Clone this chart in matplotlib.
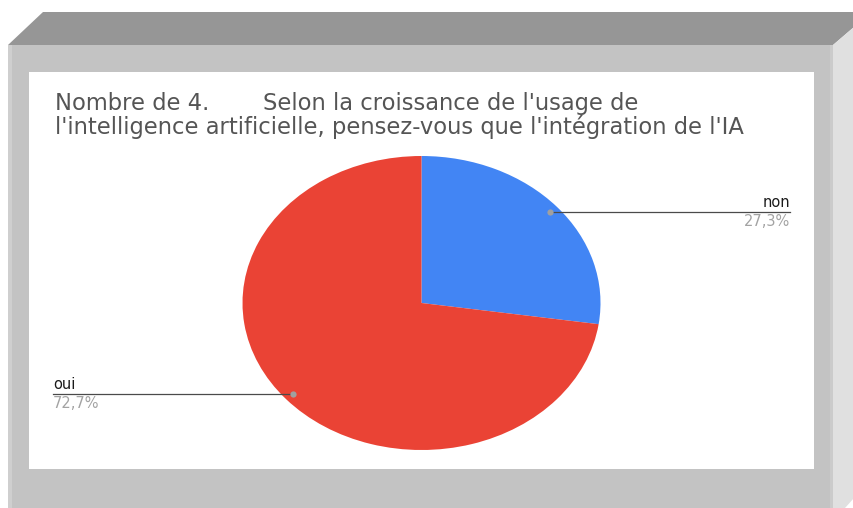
import numpy as np
import matplotlib
matplotlib.use("Agg")
import matplotlib.pyplot as plt
from matplotlib.patches import Polygon, Rectangle

plt.rcParams['font.family'] = ['DejaVu Sans']

# data
labels = ["non", "oui"]
values = [27.3, 72.7]
colors = ["#4285f4", "#ea4335"]
title_a = "Nombre de 4."
title_b = "Selon la croissance de l'usage de"
title_c = "l'intelligence artificielle, pensez-vous que l'intégration de l'IA"

W, H = 854, 508
fig = plt.figure(figsize=(W/100, H/100), dpi=100)

# background frame drawn in pixel coords
bg = fig.add_axes([0, 0, 1, 1])
bg.set_xlim(0, W); bg.set_ylim(H, 0); bg.axis('off')
bg.add_patch(Polygon([(8, 45), (43, 12), (854, 12), (854, 27), (833, 45)], closed=True, fc="#969696", ec="none"))
bg.add_patch(Polygon([(833, 45), (854, 27), (854, 498), (845, 508), (833, 508)], closed=True, fc="#e0e0e0", ec="none"))
bg.add_patch(Rectangle((8, 45), 825, 463, fc="#c3c3c3", ec="none"))
bg.add_patch(Rectangle((8, 45), 4, 463, fc="#cfcfcf", ec="none"))
bg.add_patch(Rectangle((830, 45), 3, 463, fc="#cbcbcb", ec="none"))
bg.add_patch(Rectangle((29, 72), 785, 397, fc="white", ec="none"))

tcol = "#555555"
fs = 16.3
bg.text(55, 110, title_a, fontsize=fs, color=tcol, va='baseline', ha='left')
bg.text(263, 110, title_b, fontsize=fs, color=tcol, va='baseline', ha='left')
bg.text(55, 134, title_c, fontsize=fs, color=tcol, va='baseline', ha='left')

# pie (stretched ellipse like the original)
x0, x1, y0, y1 = 242.5, 600.5, 156, 450
pax = fig.add_axes([x0/W, 1-y1/H, (x1-x0)/W, (y1-y0)/H])
wedges, _ = pax.pie(values, colors=colors, startangle=90, counterclock=False,
                    radius=1, wedgeprops=dict(linewidth=0))
pax.set_aspect('auto')
pax.set_xlim(-1, 1); pax.set_ylim(-1, 1)

# leader lines and labels
start = 90.0
tot = sum(values)
lx = 2.06
for lab, v in zip(labels, values):
    span = 360.0*v/tot
    mid = np.deg2rad(start - span/2)
    start -= span
    px, py = 0.95*np.cos(mid), 0.95*np.sin(mid)
    side = 1 if px > 0 else -1
    ex = side*lx
    pax.plot([px, ex], [py, py], color="#4a4a4a", lw=0.9, clip_on=False, zorder=5)
    pax.plot([px], [py], 'o', ms=4.5, color="#a0a0a0", mec="none", clip_on=False, zorder=6)
    ha = 'right' if side > 0 else 'left'
    pax.annotate(lab, (ex, py), xytext=(0, 1.5), textcoords='offset points',
                 ha=ha, va='bottom', fontsize=10.5, color="#1a1a1a", annotation_clip=False)
    pct = f"{v:.1f}%".replace('.', ',')
    pax.annotate(pct, (ex, py), xytext=(0, -1.5), textcoords='offset points',
                 ha=ha, va='top', fontsize=10.5, color="#a3a3a3", annotation_clip=False)

fig.savefig("out.png", dpi=100)
